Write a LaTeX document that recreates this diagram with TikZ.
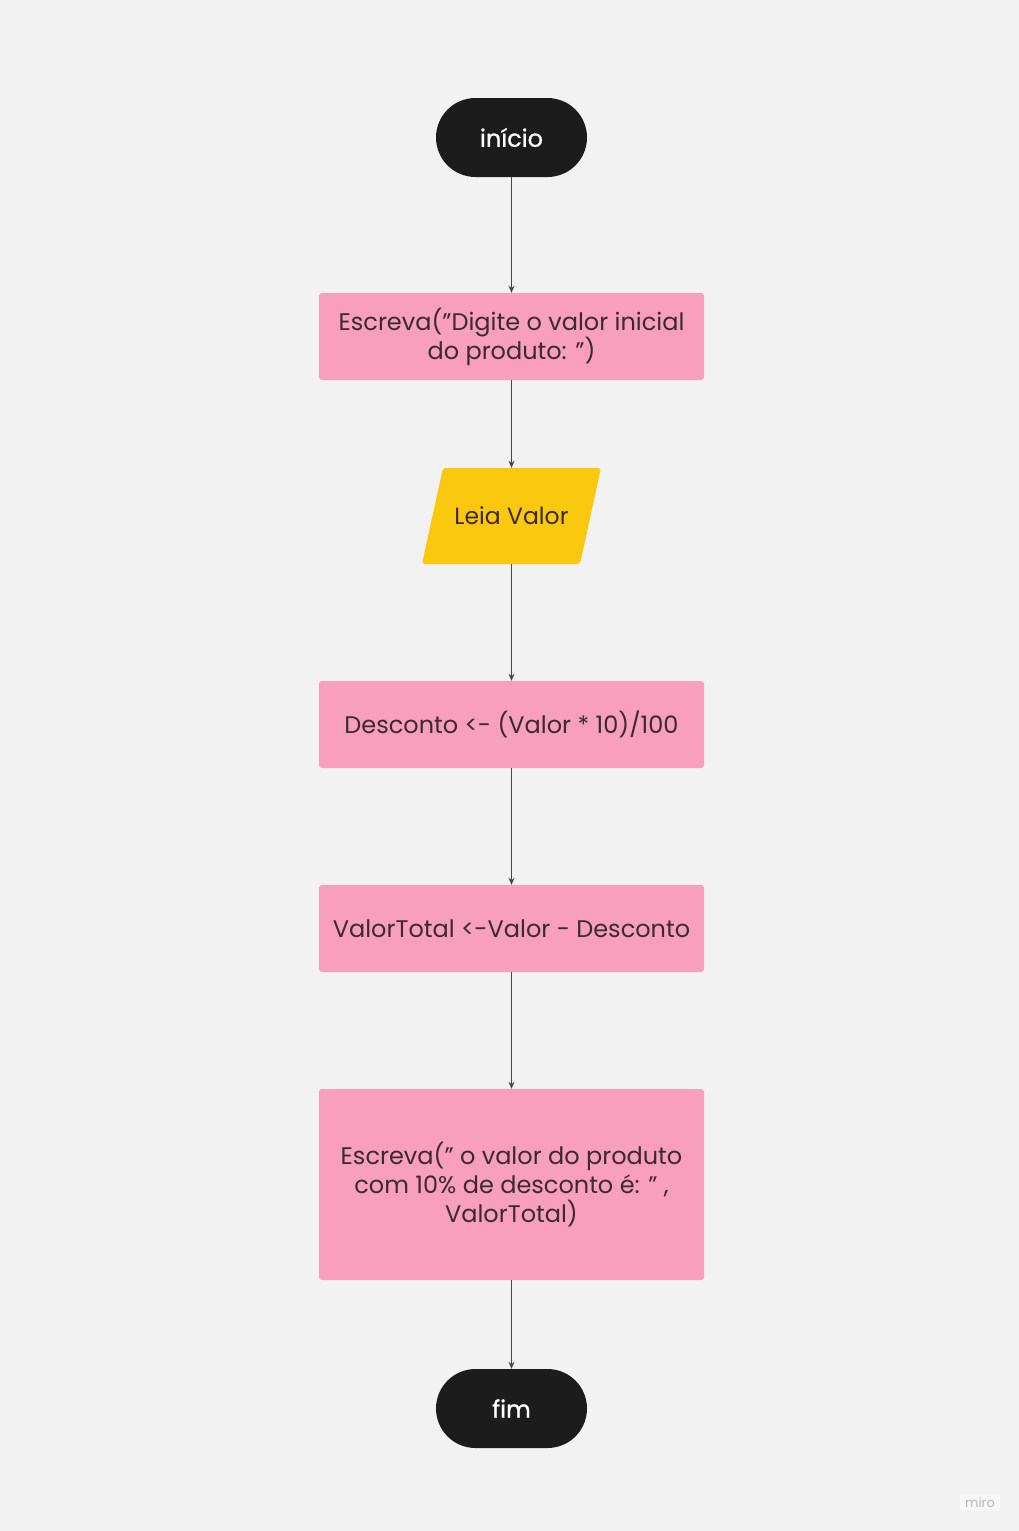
\documentclass[tikz,border=0pt]{standalone}
\usepackage{fontspec}
\setmainfont{Poppins}
\newfontfamily\termfont[FakeBold=0.9]{Poppins}
\usetikzlibrary{arrows.meta}
\definecolor{bg}{HTML}{F2F2F2}
\definecolor{pinkbox}{HTML}{F79FBC}
\definecolor{yellowbox}{HTML}{F9C80F}
\definecolor{termbox}{HTML}{1C1C1C}
\definecolor{boxtext}{HTML}{3B2A30}
\definecolor{arrowc}{HTML}{474747}
\begin{document}
\begin{tikzpicture}[x=1pt,y=-1pt,
  term/.style={fill=termbox, rounded corners=39.5pt, minimum width=151pt, minimum height=79pt, text=white, font=\termfont\fontsize{24}{29}\selectfont, inner sep=0pt},
  proc/.style={fill=pinkbox, rounded corners=3pt, minimum width=385pt, minimum height=87pt, text=boxtext, font=\fontsize{24}{29}\selectfont, align=center, inner sep=0pt},
  flow/.style={draw=arrowc, line width=1.2pt, -{Stealth[length=7pt,width=6pt]}}]
\useasboundingbox (0,0) rectangle (1019,1531);
\fill[bg] (0,0) rectangle (1019,1531);
% parallelogram shape
\fill[yellowbox, rounded corners=3pt] (443,468) -- (601,468) -- (580,564) -- (422,564) -- cycle;
\node[term] (ini) at (511.5,137.5) {início};
\node[proc] (p1) at (511.5,336.5) {Escreva("Digite o valor inicial\\do produto: ")};
\node[text=boxtext, font=\fontsize{23.5}{29}\selectfont, minimum width=179pt, minimum height=96pt, inner sep=0pt] (leia) at (511.5,516) {Leia Valor};
\node[proc] (p2) at (511.5,724.5) {Desconto <- (Valor * 10)/100};
\node[proc] (p3) at (511.5,928.5) {ValorTotal <-Valor - Desconto};
\node[proc, minimum height=191pt] (p4) at (511.5,1184.5) {Escreva(" o valor do produto\\com 10\% de desconto é: " ,\\ValorTotal)};
\node[term] (fim) at (511.5,1408.5) {fim};
\draw[flow] (ini) -- (p1);
\draw[flow] (p1) -- (leia);
\draw[flow] (leia) -- (p2);
\draw[flow] (p2) -- (p3);
\draw[flow] (p3) -- (p4);
\draw[flow] (p4) -- (fim);
\node[fill=white!35!bg, text=black!28, font=\fontsize{13}{15}\selectfont, inner xsep=5pt, inner ysep=3pt] (miro) at (980,1503) {miro};
\end{tikzpicture}
\end{document}
